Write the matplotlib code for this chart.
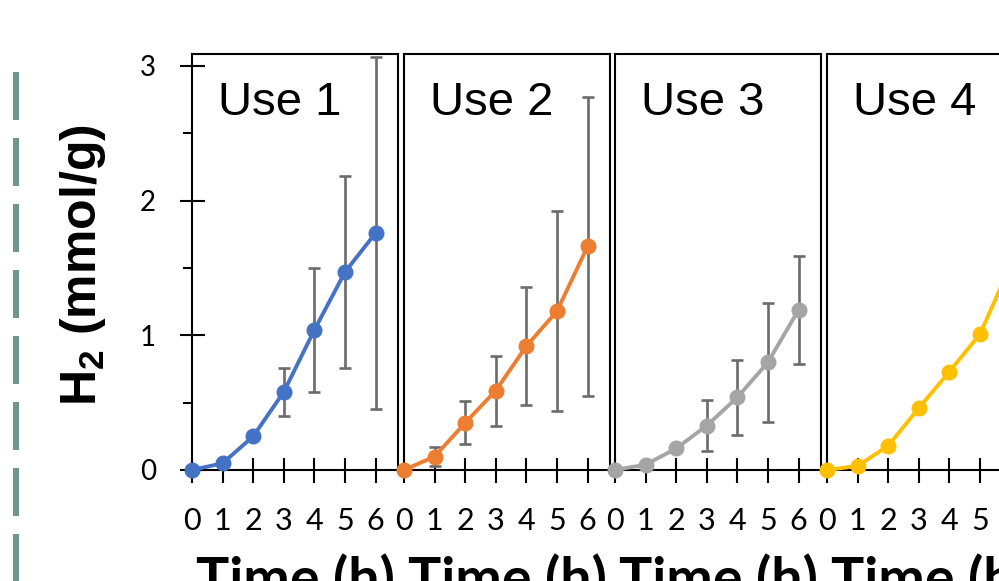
import numpy as np
import matplotlib
matplotlib.use("Agg")
import matplotlib.pyplot as plt
from matplotlib.lines import Line2D

# data
hours = [0, 1, 2, 3, 4, 5, 6]
uses = ["Use 1", "Use 2", "Use 3", "Use 4"]
colors = ["#4472C4", "#ED7D31", "#A5A5A5", "#FFC000"]

use1 = [0, 0.05, 0.25, 0.58, 1.04, 1.47, 1.76]
use2 = [0, 0.10, 0.35, 0.59, 0.92, 1.18, 1.66]
use3 = [0, 0.04, 0.16, 0.33, 0.54, 0.80, 1.19]
use4 = [0, 0.03, 0.18, 0.46, 0.73, 1.01, 1.52]

use1_err = [0, 0, 0, 0.18, 0.46, 0.71, 1.31]
use2_err = [0, 0.07, 0.16, 0.26, 0.44, 0.74, 1.11]
use3_err = [0, 0, 0, 0.19, 0.28, 0.44, 0.40]
use4_err = [0, 0, 0, 0, 0, 0, 0]

series = [use1, use2, use3, use4]
errors = [use1_err, use2_err, use3_err, use4_err]

W, H = 999, 581
fig = plt.figure(figsize=(W / 100, H / 100), dpi=100)

# panel geometry in pixels
lefts = [192, 404, 615, 827]
pw = 206
top, bottom = 54, 470
px_hour = 30.6
px_unit = 134.67

tick_font = "Lato"

for k in range(4):
    ax = fig.add_axes([lefts[k] / W, (H - bottom) / H, pw / W, (bottom - top) / H])
    ax.set_xlim(0, pw / px_hour)
    ax.set_ylim(0, (bottom - top) / px_unit)
    for s in ax.spines.values():
        s.set_linewidth(1.5)
        s.set_color("black")

    x = np.array(hours)
    y = np.array(series[k])
    e = np.array(errors[k])
    m = e > 0
    if m.any():
        ax.errorbar(x[m], y[m], yerr=e[m], fmt="none", ecolor="#6b6b6b",
                    elinewidth=1.9, capsize=4.3, capthick=1.9, clip_on=False, zorder=3)
    ax.plot(x, y, color=colors[k], lw=2.8, marker="o", ms=10.5,
            clip_on=False, zorder=4)

    ax.set_xticks(hours)
    ax.set_xticklabels([str(h) for h in hours], fontfamily=tick_font, fontsize=22)
    ax.tick_params(axis="x", direction="inout", length=18, width=1.5, pad=18)

    if k == 0:
        ax.set_yticks([0, 1, 2, 3])
        ax.set_yticks([0.5, 1.5, 2.5], minor=True)
        ax.set_yticklabels(["0", "1", "2", "3"], fontfamily=tick_font, fontsize=20)
        ax.tick_params(axis="y", which="major", direction="inout", length=18,
                       width=1.5, pad=17)
        ax.tick_params(axis="y", which="minor", direction="out", length=6.5,
                       width=1.5)
    else:
        ax.set_yticks([])

    ax.text(26 / pw, (bottom - 115) / (bottom - top), uses[k],
            transform=ax.transAxes, ha="left", va="baseline",
            fontfamily="Liberation Sans", fontsize=34)

    fig.text((lefts[k] + pw / 2) / W, (H - 597) / H, "Time (h)",
             ha="center", va="baseline", fontfamily="Lato",
             fontweight="bold", fontsize=40)

fig.text(83 / W, (H - 265) / H, r"H$_\mathregular{2}$ (mmol/g)", rotation=90,
         ha="center", va="center", fontfamily="Liberation Sans",
         fontweight="bold", fontsize=36)

# dashed divider at the left edge
lw = 6 * 0.72
fig.add_artist(Line2D([16 / W, 16 / W], [(H - 72) / H, 0], transform=fig.transFigure,
                      color="#6d968e", lw=lw, dashes=(8, 3)))

fig.savefig("out.png", dpi=100)
